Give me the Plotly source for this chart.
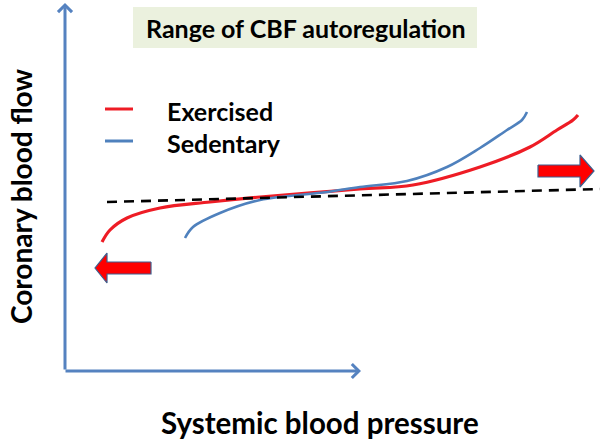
import plotly.graph_objects as go

# ---- data (schematic units; x = systemic pressure, y = coronary flow) ----
exercised_pressure = [102, 110, 127, 160, 210, 260, 360, 413, 480, 530, 557, 573, 578]
exercised_flow     = [201, 213, 225, 235, 241, 246, 254, 258, 276, 296, 313, 323, 328]

sedentary_pressure = [185, 193, 220, 260, 327, 360, 407, 447, 480, 507, 522, 527]
sedentary_flow     = [205, 216, 230, 243, 251, 256, 262, 276, 295, 313, 323, 331]

reference_pressure = [107, 600]
reference_flow     = [241, 254]

series_names = ["Exercised", "Sedentary"]
title_text = "Range of CBF autoregulation"
x_label = "Systemic blood pressure"
y_label = "Coronary blood flow"

RED = "#ee1c25"
BLUE = "#4f81bd"
AXIS = "#5582c0"
FONT = "Lato"

fig = go.Figure()

# curves
fig.add_trace(go.Scatter(x=exercised_pressure, y=exercised_flow, mode="lines",
                         line=dict(color=RED, width=3.2, shape="spline", smoothing=1.0),
                         name=series_names[0], showlegend=False, hoverinfo="skip"))
fig.add_trace(go.Scatter(x=sedentary_pressure, y=sedentary_flow, mode="lines",
                         line=dict(color=BLUE, width=2.6, shape="spline", smoothing=1.0),
                         name=series_names[1], showlegend=False, hoverinfo="skip"))
fig.add_trace(go.Scatter(x=reference_pressure, y=reference_flow, mode="lines",
                         line=dict(color="black", width=2.6, dash="10px,7px"),
                         showlegend=False, hoverinfo="skip"))

# block arrows (red, outlined)
def block_arrow(tail_x, tip_x, cy, shaft_half, head_half, head_len):
    d = 1 if tip_x > tail_x else -1
    neck = tip_x - d * head_len
    xs = [tail_x, neck, neck, tip_x, neck, neck, tail_x, tail_x]
    ys = [cy + shaft_half, cy + shaft_half, cy + head_half, cy,
          cy - head_half, cy - shaft_half, cy - shaft_half, cy + shaft_half]
    return xs, ys

for (tail, tip, cy, sh, hh, hl) in [(151, 95, 175, 6, 15, 12), (538, 594, 272, 6, 16, 14)]:
    xs, ys = block_arrow(tail, tip, cy, sh, hh, hl)
    fig.add_trace(go.Scatter(x=xs, y=ys, mode="lines", fill="toself", fillcolor="#ff0000",
                             line=dict(color="#3d5f8f", width=1.2),
                             showlegend=False, hoverinfo="skip"))

# legend (manual)
legend_y = [334, 302]
legend_colors = [RED, BLUE]
for name, yy, col in zip(series_names, legend_y, legend_colors):
    fig.add_trace(go.Scatter(x=[105, 133], y=[yy, yy], mode="lines",
                             line=dict(color=col, width=3), showlegend=False, hoverinfo="skip"))
    fig.add_annotation(x=165, y=yy - 2, xref="x", yref="y", text=name, showarrow=False,
                       xanchor="left", yanchor="middle",
                       font=dict(family=FONT, size=25, color="black", weight="bold"))

# title box
fig.add_shape(type="rect", x0=133, x1=477, y0=395, y1=436, xref="x", yref="y",
              fillcolor="#ebf1de", line=dict(width=0), layer="below")
fig.add_annotation(x=306, y=415, xref="x", yref="y", text=title_text, showarrow=False,
                   xanchor="center", yanchor="middle",
                   font=dict(family=FONT, size=25, color="black", weight="bold"))

# axes with arrowheads
fig.add_annotation(x=65, y=440, ax=65, ay=72, xref="x", yref="y", axref="x", ayref="y",
                   text="", showarrow=True, arrowhead=4, arrowsize=0.9, arrowwidth=3,
                   arrowcolor=AXIS, standoff=0, startstandoff=0)
fig.add_annotation(x=361, y=72, ax=64, ay=72, xref="x", yref="y", axref="x", ayref="y",
                   text="", showarrow=True, arrowhead=4, arrowsize=0.9, arrowwidth=3,
                   arrowcolor=AXIS, standoff=0, startstandoff=0)

# axis labels
fig.add_annotation(x=320, y=21, xref="x", yref="y", text=x_label, showarrow=False,
                   xanchor="center", yanchor="middle",
                   font=dict(family=FONT, size=29.5, color="black", weight="bold"))
fig.add_annotation(x=21, y=246, xref="x", yref="y", text=y_label, showarrow=False,
                   textangle=-90, xanchor="center", yanchor="middle",
                   font=dict(family=FONT, size=28, color="black", weight="bold"))

fig.update_layout(
    width=600, height=443,
    margin=dict(l=0, r=0, t=0, b=0),
    paper_bgcolor="white", plot_bgcolor="white",
    xaxis=dict(range=[0, 600], visible=False, fixedrange=True),
    yaxis=dict(range=[0, 443], visible=False, fixedrange=True),
    showlegend=False,
)

# remove the page's default 8px body margin so the figure fills the window exactly
fig.write_html("out.html", config={"displayModeBar": False, "staticPlot": True},
               post_script="document.body.style.margin='0';")
